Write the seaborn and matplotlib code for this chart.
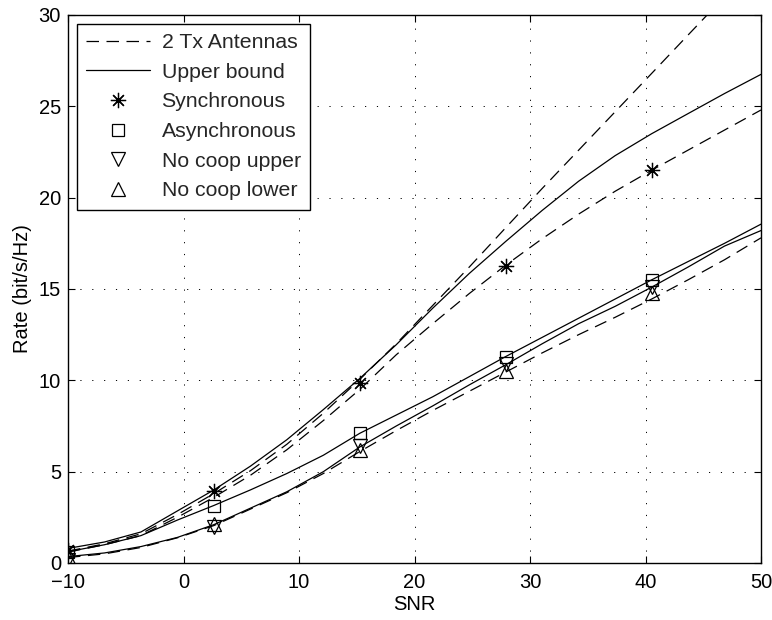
import matplotlib
matplotlib.use("Agg")
import matplotlib.pyplot as plt
import seaborn as sns
import pandas as pd

# ---- data ----
snr = [-10, -6.84, -3.68, -0.53, 2.63, 5.79, 8.95, 12.11, 15.26, 18.42,
       21.58, 24.74, 27.89, 31.05, 34.21, 37.37, 40.53, 43.68, 46.84, 50]

# dashed curves ("2 Tx Antennas")
tx2_sync_high = [0.65, 1.05, 1.6, 2.65, 3.8, 5.05, 6.5, 8.2, 10.05, 12.0,
                 14.1, 16.2, 18.35, 20.5, 22.6, 24.7, 26.8, 28.9, 31.0, 33.1]
tx2_sync_low = [0.6, 1.0, 1.5, 2.5, 3.6, 4.8, 6.2, 7.8, 9.5, 11.4,
                13.1, 14.75, 16.3, 17.75, 19.1, 20.35, 21.5, 22.6, 23.7, 24.8]
tx2_nocoop = [0.3, 0.5, 0.85, 1.38, 2.05, 2.95, 3.85, 4.9, 6.1, 7.25,
              8.35, 9.4, 10.45, 11.5, 12.5, 13.45, 14.45, 15.5, 16.6, 17.8]

# solid curves ("Upper bound")
ub_sync = [0.8, 1.15, 1.7, 2.85, 4.0, 5.3, 6.75, 8.4, 10.1, 11.95,
           13.95, 15.85, 17.6, 19.3, 20.9, 22.3, 23.5, 24.6, 25.7, 26.75]
ub_async = [0.62, 1.0, 1.5, 2.35, 3.15, 4.0, 4.9, 5.9, 7.1, 8.1,
            9.1, 10.2, 11.3, 12.35, 13.4, 14.45, 15.5, 16.5, 17.5, 18.55]
ub_nocoop = [0.35, 0.55, 0.9, 1.4, 2.1, 3.0, 3.9, 5.0, 6.35, 7.5,
             8.6, 9.75, 10.85, 12.0, 13.1, 14.05, 15.1, 16.2, 17.35, 18.2]

# simulated points (markers)
marker_snr = [-10, 2.63, 15.26, 27.89, 40.53]
sync_pts = [0.7, 3.94, 9.85, 16.26, 21.5]
async_pts = [0.62, 3.12, 7.13, 11.29, 15.5]
nocoop_upper_pts = [0.16, 1.99, 6.4, 10.9, 15.09]
nocoop_lower_pts = [0.35, 2.15, 6.2, 10.53, 14.76]

x_ticks = [-10, 0, 10, 20, 30, 40, 50]
y_ticks = [0, 5, 10, 15, 20, 25, 30]

# ---- style ----
sns.set_theme(style="white")
plt.rcParams['font.family'] = ['Liberation Sans', 'DejaVu Sans']
plt.rcParams['axes.unicode_minus'] = True
FS = 14.5
LFS = 15.3

fig = plt.figure(figsize=(7.72, 6.2), dpi=100)
ax = fig.add_axes([68 / 772, 1 - 563 / 620, (761 - 68) / 772, (563 - 15) / 620])

dash = (0, (10, 6))
LW = 0.9

def draw_line(y, ls, label):
    df = pd.DataFrame({"snr": snr, "rate": y})
    sns.lineplot(data=df, x="snr", y="rate", ax=ax, color="black", lw=LW,
                 linestyle=ls, label=label, sort=False, estimator=None)

draw_line(tx2_sync_high, dash, "2 Tx Antennas")
draw_line(tx2_sync_low, dash, "_nolegend_")
draw_line(tx2_nocoop, dash, "_nolegend_")
draw_line(ub_sync, "-", "Upper bound")
draw_line(ub_async, "-", "_nolegend_")
draw_line(ub_nocoop, "-", "_nolegend_")

def draw_pts(y, marker, ms, label):
    df = pd.DataFrame({"snr": marker_snr, "rate": y})
    sns.lineplot(data=df, x="snr", y="rate", ax=ax, color="black",
                 linestyle="none", marker=marker, markersize=ms,
                 markerfacecolor="none", markeredgecolor="black",
                 markeredgewidth=0.9, label=label, sort=False, estimator=None)

draw_pts(sync_pts, (8, 2, 0), 11, "Synchronous")
draw_pts(async_pts, "s", 9, "Asynchronous")
draw_pts(nocoop_upper_pts, "v", 10, "No coop upper")
draw_pts(nocoop_lower_pts, "^", 10, "No coop lower")

ax.set_xlim(-10, 50)
ax.set_ylim(0, 30)
ax.set_xticks(x_ticks)
ax.set_yticks(y_ticks)
ax.set_xlabel("SNR", fontsize=FS, color="black", labelpad=2)
ax.set_ylabel("Rate (bit/s/Hz)", fontsize=FS, color="black", labelpad=5)

ax.grid(True, color="black", linestyle=(0, (1.2, 11)), linewidth=0.7)
ax.tick_params(direction="in", length=5, width=0.8, top=True, right=True,
               bottom=True, left=True, labelsize=FS, colors="black")
ax.tick_params(axis="x", pad=7)
ax.tick_params(axis="y", pad=5)
for sp in ax.spines.values():
    sp.set_color("black")
    sp.set_linewidth(1.0)
    sp.set_visible(True)

handles, labels = ax.get_legend_handles_labels()
order = ["2 Tx Antennas", "Upper bound", "Synchronous", "Asynchronous",
         "No coop upper", "No coop lower"]
hmap = dict(zip(labels, handles))
leg = ax.legend([hmap[k] for k in order], order, loc="upper left",
                fontsize=LFS, frameon=True, fancybox=False, framealpha=1,
                edgecolor="black", handlelength=3.0, handletextpad=0.55,
                labelspacing=0.5, borderpad=0.45, borderaxespad=0.4)
leg.get_frame().set_linewidth(1.0)

fig.savefig("out.png", dpi=100, facecolor="white")
